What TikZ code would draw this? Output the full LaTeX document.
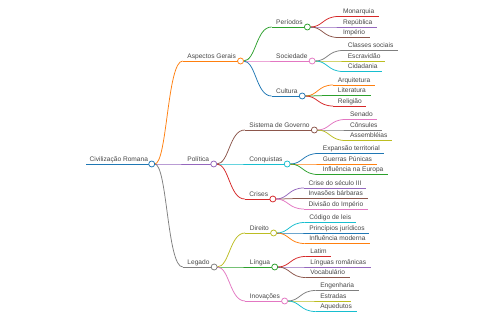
\documentclass[tikz,border=0pt]{standalone}
\usepackage{fontspec}
\setmainfont{Liberation Sans}
\usetikzlibrary{calc}
\definecolor{c0}{HTML}{1F77B4}
\definecolor{c1}{HTML}{FF7F0E}
\definecolor{c2}{HTML}{2CA02C}
\definecolor{c3}{HTML}{D62728}
\definecolor{c4}{HTML}{9467BD}
\definecolor{c5}{HTML}{8C564B}
\definecolor{c6}{HTML}{E377C2}
\definecolor{c7}{HTML}{7F7F7F}
\definecolor{c8}{HTML}{BCBD22}
\definecolor{c9}{HTML}{17BECF}
\tikzset{
  mmtxt/.style={inner sep=0pt, font=\fontsize{6.6}{7}\selectfont, text=black!72},
  mmline/.style={line width=0.75pt},
  mmdotstyle/.style={line width=0.75pt, fill=white}
}
\newcommand\mmnode[5]{%
  \path let \p1=(#2-c) in coordinate (#1-s) at (\x1+31pt,-#3pt);
  \draw[mmline,#4] let \p1=(#2-c), \p2=(#1-s) in (\x1+3pt,\y1) .. controls ({(\x1+\x2)/2},\y1) and ({(\x1+\x2)/2},\y2) .. (\p2);
  \node[mmtxt, anchor=base west] (#1-t) at ([xshift=4.5pt,yshift=2.6pt]#1-s) {#5};
  \path let \p1=(#1-t.east), \p2=(#1-s) in coordinate (#1-c) at (\x1+4.5pt,\y2);
  \draw[mmline,#4] (#1-s) -- (#1-c);
}
\newcommand\mmdot[2]{\draw[mmdotstyle,draw=#2] (#1-c) circle (3pt);}
\begin{document}
\begin{tikzpicture}
\useasboundingbox (0,0) rectangle (480pt,-320pt);
\fill[white] (0,0) rectangle (480pt,-320pt);
% root
\coordinate (R-s) at (86pt,-164pt);
\node[mmtxt, anchor=base west] (R-t) at ([xshift=3.5pt,yshift=2.6pt]R-s) {Civilização Romana};
\path let \p1=(R-t.east), \p2=(R-s) in coordinate (R-c) at (\x1+3.5pt,\y2);
\draw[mmline,c0] (R-s) -- (R-c);
% level 1
\mmnode{AG}{R}{61}{c1}{Aspectos Gerais}
\mmnode{POL}{R}{164}{c4}{Política}
\mmnode{LEG}{R}{267}{c7}{Legado}
% Aspectos Gerais
\mmnode{PER}{AG}{27}{c2}{Períodos}
\mmnode{SOC}{AG}{61}{c6}{Sociedade}
\mmnode{CUL}{AG}{96}{c0}{Cultura}
\mmnode{MON}{PER}{16.5}{c3}{Monarquia}
\mmnode{REP}{PER}{27}{c4}{República}
\mmnode{IMP}{PER}{37.5}{c5}{Império}
\mmnode{CLA}{SOC}{50.5}{c7}{Classes sociais}
\mmnode{ESC}{SOC}{61}{c8}{Escravidão}
\mmnode{CID}{SOC}{71.5}{c9}{Cidadania}
\mmnode{ARQ}{CUL}{85}{c1}{Arquitetura}
\mmnode{LIT}{CUL}{95.5}{c2}{Literatura}
\mmnode{REL}{CUL}{106}{c3}{Religião}
% Politica
\mmnode{SG}{POL}{130}{c5}{Sistema de Governo}
\mmnode{CQ}{POL}{164}{c9}{Conquistas}
\mmnode{CR}{POL}{199}{c3}{Crises}
\mmnode{SEN}{SG}{119.5}{c6}{Senado}
\mmnode{CON}{SG}{130}{c7}{Cônsules}
\mmnode{ASS}{SG}{140.5}{c8}{Assembléias}
\mmnode{EXP}{CQ}{153.5}{c0}{Expansão territorial}
\mmnode{GUE}{CQ}{164}{c1}{Guerras Púnicas}
\mmnode{INF}{CQ}{174.5}{c2}{Influência na Europa}
\mmnode{CRS}{CR}{188}{c4}{Crise do século III}
\mmnode{INV}{CR}{198.5}{c5}{Invasões bárbaras}
\mmnode{DIV}{CR}{209}{c6}{Divisão do Império}
% Legado
\mmnode{DIR}{LEG}{233}{c8}{Direito}
\mmnode{LIN}{LEG}{267}{c2}{Língua}
\mmnode{INO}{LEG}{301}{c6}{Inovações}
\mmnode{COD}{DIR}{222.5}{c9}{Código de leis}
\mmnode{PRI}{DIR}{233}{c0}{Princípios jurídicos}
\mmnode{IMO}{DIR}{243.5}{c1}{Influência moderna}
\mmnode{LAT}{LIN}{256.5}{c3}{Latim}
\mmnode{LRO}{LIN}{267}{c4}{Línguas românicas}
\mmnode{VOC}{LIN}{277.5}{c5}{Vocabulário}
\mmnode{ENG}{INO}{290.5}{c7}{Engenharia}
\mmnode{EST}{INO}{301}{c8}{Estradas}
\mmnode{AQU}{INO}{311.5}{c9}{Aquedutos}
% circles
\mmdot{R}{c0}
\mmdot{AG}{c1}
\mmdot{POL}{c4}
\mmdot{LEG}{c7}
\mmdot{PER}{c2}
\mmdot{SOC}{c6}
\mmdot{CUL}{c0}
\mmdot{SG}{c5}
\mmdot{CQ}{c9}
\mmdot{CR}{c3}
\mmdot{DIR}{c8}
\mmdot{LIN}{c2}
\mmdot{INO}{c6}
\end{tikzpicture}
\end{document}
